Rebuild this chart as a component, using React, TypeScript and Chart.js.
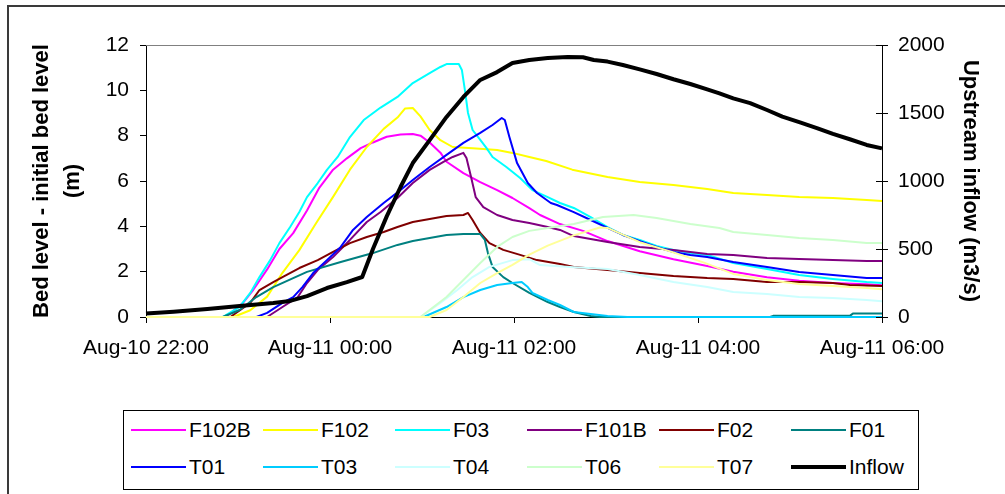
import React, { useEffect, useRef } from 'react';
import { Chart, registerables } from 'chart.js';

Chart.register(...registerables);

// ---- axis labels ----
const xTickValues = [0, 120, 240, 360, 480]; // minutes after Aug-10 22:00
const xTickLabels = ['Aug-10 22:00', 'Aug-11 00:00', 'Aug-11 02:00', 'Aug-11 04:00', 'Aug-11 06:00'];
const yTitleLines = ['Bed level - initial bed level', '(m)'];
const y1Title = 'Upstream inflow (m3/s)';

// ---- series (time in minutes after Aug-10 22:00, value) ----
const f102bTimes = [0, 52, 63, 70, 79, 87, 96, 105, 113, 122, 131, 140, 148, 157, 166, 174, 179, 185, 192, 196, 207, 218, 229, 239, 250, 257, 270, 285, 301, 322, 344, 366, 383, 405, 426, 448, 470, 480];
const f102bValues = [0, 0, 0.6, 1.2, 2.1, 3.0, 3.7, 4.7, 5.7, 6.5, 7.0, 7.45, 7.7, 7.95, 8.05, 8.07, 8.0, 7.7, 7.25, 6.85, 6.35, 5.95, 5.6, 5.25, 4.8, 4.5, 4.1, 3.8, 3.35, 2.9, 2.55, 2.25, 2.0, 1.75, 1.6, 1.5, 1.45, 1.4];

const f102Times = [0, 57, 68, 79, 89, 100, 111, 122, 133, 144, 155, 164, 169, 174, 179, 185, 192, 200, 213, 229, 239, 250, 261, 278, 301, 322, 344, 366, 383, 405, 426, 448, 470, 480];
const f102Values = [0, 0, 0.3, 0.9, 1.95, 2.95, 4.15, 5.3, 6.5, 7.5, 8.3, 8.8, 9.2, 9.22, 8.85, 8.25, 7.8, 7.5, 7.45, 7.37, 7.24, 7.06, 6.88, 6.5, 6.18, 5.96, 5.82, 5.65, 5.47, 5.38, 5.29, 5.25, 5.16, 5.12];

const f03Times = [0, 50, 61, 68, 74, 81, 87, 94, 100, 105, 112, 118, 125, 133, 142, 153, 164, 174, 185, 192, 196, 204, 206, 208, 210, 213, 218, 222, 226, 235, 244, 252, 262, 270, 279, 290, 301, 311, 322, 333, 344, 355, 366, 383, 405, 426, 448, 470, 480];
const f03Values = [0, 0, 0.45, 1.06, 1.76, 2.51, 3.26, 3.97, 4.63, 5.29, 5.91, 6.49, 7.06, 7.94, 8.69, 9.24, 9.71, 10.32, 10.76, 11.03, 11.16, 11.16, 10.9, 10.0, 9.0, 8.25, 7.81, 7.46, 7.06, 6.62, 6.13, 5.6, 5.29, 5.03, 4.81, 4.41, 3.97, 3.62, 3.4, 3.13, 2.96, 2.82, 2.74, 2.38, 2.12, 1.85, 1.68, 1.54, 1.5];

const f101bTimes = [0, 79, 89, 99, 105, 112, 122, 133, 144, 153, 164, 174, 185, 194, 200, 207, 209, 212, 215, 220, 229, 239, 250, 262, 270, 279, 301, 322, 344, 366, 383, 405, 426, 448, 470, 480];
const f101bValues = [0, 0, 0.44, 0.88, 1.5, 2.07, 2.65, 3.4, 4.19, 4.63, 5.25, 5.91, 6.49, 6.84, 7.06, 7.24, 7.01, 6.18, 5.29, 4.85, 4.5, 4.28, 4.15, 3.97, 3.84, 3.57, 3.31, 3.09, 2.96, 2.78, 2.74, 2.6, 2.56, 2.51, 2.47, 2.47];

const f02Times = [0, 55, 68, 74, 83, 89, 100, 112, 122, 133, 144, 155, 164, 174, 185, 196, 207, 210, 213, 218, 224, 233, 244, 255, 270, 279, 301, 322, 344, 366, 383, 405, 426, 448, 459, 480];
const f02Values = [0, 0, 0.62, 1.19, 1.54, 1.76, 2.16, 2.51, 2.87, 3.26, 3.53, 3.75, 3.97, 4.19, 4.32, 4.46, 4.5, 4.59, 4.28, 3.71, 3.26, 2.96, 2.74, 2.51, 2.34, 2.21, 2.07, 1.94, 1.81, 1.72, 1.68, 1.54, 1.54, 1.5, 1.41, 1.37];

const f01Times = [0, 50, 61, 72, 83, 105, 127, 148, 164, 174, 185, 196, 207, 218, 221, 223, 226, 233, 239, 250, 262, 270, 279, 290, 296, 407, 409, 459, 461, 480];
const f01Values = [0, 0, 0.31, 0.88, 1.32, 1.99, 2.43, 2.82, 3.18, 3.35, 3.49, 3.62, 3.66, 3.66, 3.4, 2.82, 2.21, 1.76, 1.5, 1.06, 0.66, 0.44, 0.22, 0.04, 0, 0, 0.05, 0.05, 0.15, 0.15];

const t01Times = [0, 72, 79, 89, 96, 102, 109, 118, 127, 135, 144, 155, 166, 174, 185, 196, 207, 218, 226, 232, 234, 237, 242, 249, 255, 264, 268, 279, 290, 301, 311, 322, 333, 344, 355, 366, 383, 405, 426, 448, 470, 480];
const t01Values = [0, 0, 0.18, 0.62, 0.88, 1.32, 1.94, 2.51, 3.09, 3.84, 4.41, 5.03, 5.6, 6.04, 6.62, 7.15, 7.68, 8.12, 8.47, 8.78, 8.69, 7.94, 6.79, 5.91, 5.47, 5.03, 4.94, 4.63, 4.28, 3.93, 3.62, 3.35, 3.09, 2.87, 2.74, 2.65, 2.43, 2.21, 1.99, 1.85, 1.72, 1.72];

const t03Times = [0, 181, 196, 207, 218, 229, 239, 245, 249, 252, 262, 270, 279, 301, 314, 480];
const t03Values = [0, 0, 0.44, 0.88, 1.19, 1.41, 1.5, 1.54, 1.32, 1.06, 0.75, 0.53, 0.22, 0.04, 0, 0];

const t04Times = [0, 179, 192, 203, 213, 224, 239, 250, 257, 279, 301, 322, 344, 366, 383, 405, 426, 448, 470, 480];
const t04Values = [0, 0, 0.62, 1.19, 1.76, 2.21, 2.51, 2.55, 2.29, 2.2, 2.12, 1.85, 1.54, 1.32, 1.1, 1.01, 0.88, 0.84, 0.75, 0.7];

const t06Times = [0, 179, 196, 207, 218, 229, 239, 250, 262, 279, 298, 318, 333, 355, 374, 383, 405, 426, 448, 470, 480];
const t06Values = [0, 0, 0.88, 1.63, 2.38, 3.09, 3.53, 3.8, 3.93, 4.1, 4.41, 4.5, 4.37, 4.1, 3.93, 3.75, 3.62, 3.49, 3.4, 3.26, 3.26];

const t07Times = [0, 185, 196, 207, 218, 229, 239, 250, 262, 279, 296, 301, 322, 344, 364, 383, 405, 426, 448, 470, 480];
const t07Values = [0, 0, 0.31, 0.88, 1.5, 1.94, 2.3, 2.75, 3.15, 3.6, 3.95, 3.93, 3.3, 2.85, 2.4, 1.9, 1.63, 1.46, 1.37, 1.28, 1.22];

const inflowTimes = [0, 18, 40, 61, 83, 94, 105, 118, 131, 141, 148, 157, 166, 174, 185, 196, 207, 218, 229, 239, 250, 262, 275, 285, 292, 301, 311, 322, 333, 344, 355, 366, 374, 383, 394, 405, 415, 427, 438, 448, 459, 470, 480];
const inflowValues = [26, 39, 59, 81, 103, 118, 154, 213, 257, 294, 500, 740, 956, 1132, 1301, 1471, 1618, 1743, 1801, 1868, 1890, 1904, 1912, 1910, 1890, 1878, 1853, 1821, 1787, 1748, 1713, 1674, 1645, 1608, 1573, 1522, 1473, 1429, 1387, 1346, 1307, 1265, 1240];

const seriesNames = ['F102B', 'F102', 'F03', 'F101B', 'F02', 'F01', 'T01', 'T03', 'T04', 'T06', 'T07', 'Inflow'];
const seriesColors = ['#FF00FF', '#FFFF00', '#00FFFF', '#800080', '#800000', '#008080', '#0000FF', '#00CCFF', '#CCFFFF', '#CCFFCC', '#FFFF99', '#000000'];
const seriesTimes = [f102bTimes, f102Times, f03Times, f101bTimes, f02Times, f01Times, t01Times, t03Times, t04Times, t06Times, t07Times, inflowTimes];
const seriesValues = [f102bValues, f102Values, f03Values, f101bValues, f02Values, f01Values, t01Values, t03Values, t04Values, t06Values, t07Values, inflowValues];
const seriesAxis = ['y', 'y', 'y', 'y', 'y', 'y', 'y', 'y', 'y', 'y', 'y', 'y1'];
const seriesWidths = [2, 2, 2, 2, 2, 2, 2, 2, 2, 2, 2, 4];

const FONT = '"Liberation Sans", Arial, sans-serif';

const framePlugin = {
  id: 'frameExtras',
  afterDraw(chart: any) {
    const { ctx, chartArea } = chart;
    const y1 = chart.scales.y1;
    ctx.save();
    ctx.strokeStyle = '#808080';
    ctx.lineWidth = 1;
    ctx.beginPath();
    ctx.moveTo(chartArea.left, chartArea.top + 0.5);
    ctx.lineTo(chartArea.right, chartArea.top + 0.5);
    ctx.stroke();
    ctx.strokeStyle = '#000';
    ctx.beginPath();
    y1.ticks.forEach((_t: any, i: number) => {
      const py = Math.round(y1.getPixelForTick(i)) + 0.5;
      ctx.moveTo(chartArea.right - 6, py);
      ctx.lineTo(chartArea.right, py);
    });
    ctx.stroke();
    ctx.restore();
  },
};

export default function App() {
  const ref = useRef<HTMLCanvasElement>(null);

  useEffect(() => {
    if (!ref.current) return;
    Chart.defaults.font.family = FONT;
    Chart.defaults.color = '#000';
    const n = seriesNames.length;
    const datasets = seriesNames.map((name, i) => ({
      label: name,
      data: seriesTimes[i].map((t, j) => ({ x: t, y: seriesValues[i][j] })),
      borderColor: seriesColors[i],
      backgroundColor: seriesColors[i],
      borderWidth: seriesWidths[i],
      pointRadius: 0,
      tension: 0,
      fill: false,
      yAxisID: seriesAxis[i],
      order: n - i,
      clip: false as const,
      borderJoinStyle: 'round' as const,
    }));

    const chart = new Chart(ref.current, {
      type: 'line',
      data: { datasets },
      plugins: [framePlugin],
      options: {
        animation: false,
        responsive: false,
        maintainAspectRatio: false,
        layout: { padding: { top: 45, left: 0, right: 0, bottom: 0 } },
        plugins: { legend: { display: false }, tooltip: { enabled: false } },
        scales: {
          x: {
            type: 'linear',
            position: 'bottom',
            min: 0,
            max: 480,
            afterBuildTicks: (s: any) => {
              s.ticks = xTickValues.map((v) => ({ value: v }));
            },
            ticks: {
              callback: (v: any) => xTickLabels[xTickValues.indexOf(Number(v))],
              maxRotation: 0,
              autoSkip: false,
              padding: 13,
              font: { size: 21 },
              color: '#000',
            },
            grid: { drawOnChartArea: false, drawTicks: true, tickLength: 6, color: '#000', tickColor: '#000' },
            border: { display: true, color: '#000', width: 1 },
            afterFit: (s: any) => {
              s.height = 494 - 317;
            },
          },
          y: {
            type: 'linear',
            position: 'left',
            min: 0,
            max: 12,
            ticks: { stepSize: 2, padding: 11, font: { size: 21 }, color: '#000', callback: (v: any) => String(v) },
            grid: { drawOnChartArea: false, drawTicks: true, tickLength: 6, color: '#000', tickColor: '#000' },
            border: { display: true, color: '#000', width: 1 },
            title: {
              display: true,
              text: yTitleLines,
              color: '#000',
              font: { size: 22, weight: 'bold', lineHeight: 1.4 },
              padding: { top: 27, bottom: 0 },
            },
            afterFit: (s: any) => {
              s.width = 146;
            },
          },
          y1: {
            type: 'linear',
            position: 'right',
            min: 0,
            max: 2000,
            ticks: { stepSize: 500, padding: 10, font: { size: 21 }, color: '#000', callback: (v: any) => String(v) },
            grid: { drawOnChartArea: false, drawTicks: true, tickLength: 6, color: '#000', tickColor: '#000' },
            border: { display: true, color: '#000', width: 1 },
            title: {
              display: true,
              text: y1Title,
              color: '#000',
              font: { size: 22, weight: 'bold', lineHeight: 1.2 },
              padding: { top: 22, bottom: 0 },
            },
            afterFit: (s: any) => {
              s.width = 1005 - 882;
            },
          },
        },
      } as any,
    });
    return () => chart.destroy();
  }, []);

  const legendRows = [seriesNames.slice(0, 6), seriesNames.slice(6, 12)];

  return (
    <div style={{ position: 'absolute', left: 0, top: 0, width: 1005, height: 494, overflow: 'hidden', background: '#fff' }}>
      <div
        style={{
          position: 'absolute',
          left: 7,
          top: 5,
          width: 998,
          height: 489,
          borderLeft: '2px solid #3a3a3a',
          borderTop: '2px solid #3a3a3a',
          boxSizing: 'border-box',
        }}
      />
      <canvas ref={ref} width={1005} height={494} style={{ position: 'absolute', left: 0, top: 0, width: 1005, height: 494 }} />
      <div
        style={{
          position: 'absolute',
          left: 123,
          top: 410,
          width: 796,
          height: 80,
          border: '1px solid #000',
          boxSizing: 'border-box',
          background: '#fff',
          fontFamily: FONT,
          fontSize: 21,
          color: '#000',
        }}
      >
        {legendRows.map((row, r) =>
          row.map((name, c) => {
            const idx = r * 6 + c;
            return (
              <div
                key={name}
                style={{
                  position: 'absolute',
                  left: 7 + 132 * c,
                  top: (r === 0 ? 19 : 56) - 13,
                  height: 26,
                  display: 'flex',
                  alignItems: 'center',
                  whiteSpace: 'nowrap',
                }}
              >
                <span
                  style={{
                    display: 'inline-block',
                    width: 55,
                    height: seriesWidths[idx],
                    background: seriesColors[idx],
                    marginRight: 3,
                  }}
                />
                <span style={{ lineHeight: '26px' }}>{name}</span>
              </div>
            );
          })
        )}
      </div>
    </div>
  );
}
